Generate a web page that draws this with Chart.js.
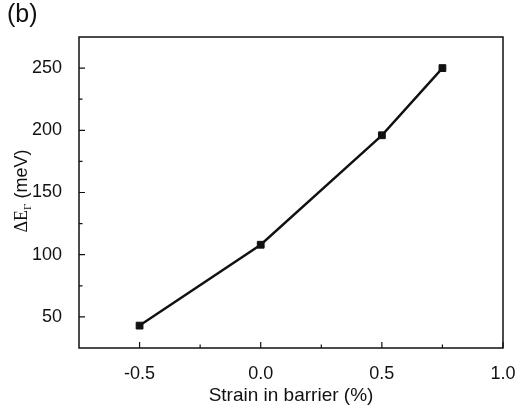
<!DOCTYPE html>
<html>
<head>
<meta charset="utf-8">
<script src="https://cdn.jsdelivr.net/npm/chart.js@4.4.0/dist/chart.umd.min.js"></script>
<style>
  html, body { margin: 0; padding: 0; background: #fff; }
  #wrap { width: 518px; height: 414px; position: relative; }
</style>
</head>
<body>
<div id="wrap"><canvas id="chart"></canvas></div>
<script>
const strain = [-0.5, 0.0, 0.5, 0.75];
const deltaE = [43, 108, 196, 250];
const xTicks = [-0.5, 0.0, 0.5, 1.0];
const xMinor = [-0.25, 0.25, 0.75];
const yTicks = [50, 100, 150, 200, 250];
const yMinor = [75, 125, 175, 225];

const INK = '#111';
const SANS = '"Liberation Sans", Arial, sans-serif';
const SERIF = '"Liberation Serif", "Times New Roman", serif';

// frame, inward ticks and titles
const framePlugin = {
  id: 'frame',
  afterDraw(chart) {
    const { ctx, chartArea: a, scales: { x, y } } = chart;
    ctx.save();
    ctx.strokeStyle = INK;
    ctx.lineWidth = 1.5;
    ctx.strokeRect(a.left, a.top, a.right - a.left, a.bottom - a.top);

    ctx.lineWidth = 1.2;
    ctx.beginPath();
    xTicks.forEach(v => { const px = x.getPixelForValue(v); ctx.moveTo(px, a.bottom); ctx.lineTo(px, a.bottom - 6); });
    xMinor.forEach(v => { const px = x.getPixelForValue(v); ctx.moveTo(px, a.bottom); ctx.lineTo(px, a.bottom - 3.5); });
    yTicks.forEach(v => { const py = y.getPixelForValue(v); ctx.moveTo(a.left, py); ctx.lineTo(a.left + 6, py); });
    yMinor.forEach(v => { const py = y.getPixelForValue(v); ctx.moveTo(a.left, py); ctx.lineTo(a.left + 3.5, py); });
    ctx.stroke();

    ctx.fillStyle = INK;
    ctx.textBaseline = 'alphabetic';

    // panel letter
    ctx.textAlign = 'left';
    ctx.font = '25px ' + SANS;
    ctx.fillText('(b)', 7, 22);

    // x title
    ctx.textAlign = 'center';
    ctx.font = '19px ' + SANS;
    ctx.fillText('Strain in barrier (%)', (a.left + a.right) / 2, 401);

    // y title with subscript
    const parts = [
      { t: '\u0394E', font: '18px ' + SERIF, dy: 0 },
      { t: '\u0393', font: '11px ' + SERIF, dy: 4 },
      { t: ' (meV)', font: '18px ' + SANS, dy: 0 }
    ];
    let total = 0;
    parts.forEach(p => { ctx.font = p.font; p.w = ctx.measureText(p.t).width; total += p.w; });
    ctx.translate(27, 191);
    ctx.rotate(-Math.PI / 2);
    ctx.textAlign = 'left';
    let cx = -total / 2;
    parts.forEach(p => { ctx.font = p.font; ctx.fillText(p.t, cx, p.dy); cx += p.w; });
    ctx.restore();
  }
};

new Chart(document.getElementById('chart'), {
  type: 'line',
  data: {
    datasets: [{
      data: strain.map((s, i) => ({ x: s, y: deltaE[i] })),
      borderColor: INK,
      backgroundColor: INK,
      borderWidth: 2.4,
      pointStyle: 'rect',
      pointRadius: 4.8,
      pointBorderWidth: 1,
      tension: 0,
      clip: false
    }]
  },
  options: {
    responsive: true,
    maintainAspectRatio: false,
    animation: false,
    layout: { padding: { top: 37, right: 15, left: 0, bottom: 0 } },
    plugins: { legend: { display: false }, tooltip: { enabled: false } },
    scales: {
      x: {
        type: 'linear',
        min: -0.75,
        max: 1.0,
        afterBuildTicks: scale => { scale.ticks = xTicks.map(v => ({ value: v })); },
        afterFit: scale => { scale.height = 66; scale.paddingLeft = 0; scale.paddingRight = 0; },
        grid: { display: false },
        border: { display: false },
        ticks: {
          color: INK,
          padding: 7,
          maxRotation: 0,
          font: { family: SANS, size: 18 },
          callback: v => Number(v).toFixed(1)
        }
      },
      y: {
        min: 25,
        max: 275,
        afterBuildTicks: scale => { scale.ticks = yTicks.map(v => ({ value: v })); },
        afterFit: scale => { scale.width = 79; scale.paddingTop = 0; scale.paddingBottom = 0; },
        grid: { display: false },
        border: { display: false },
        ticks: {
          color: INK,
          padding: 9,
          font: { family: SANS, size: 18 },
          callback: v => String(v)
        }
      }
    }
  },
  plugins: [framePlugin]
});
</script>
</body>
</html>
